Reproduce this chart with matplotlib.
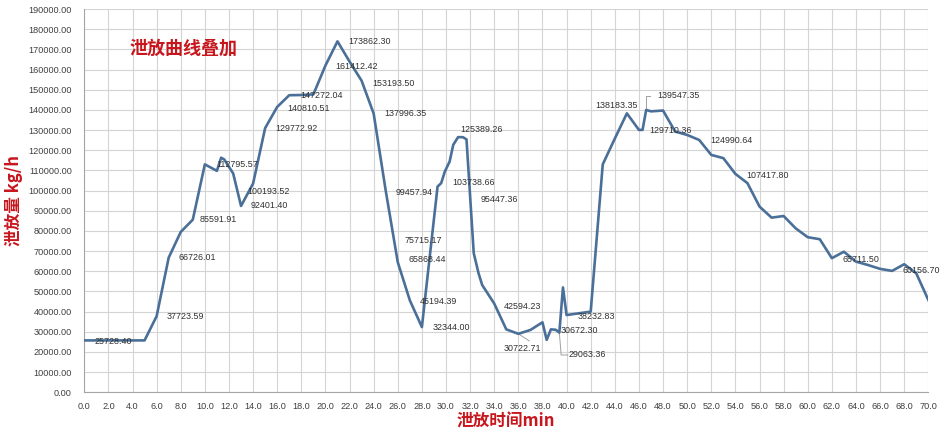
import matplotlib
matplotlib.use("Agg")
import matplotlib.pyplot as plt
from matplotlib.ticker import FormatStrFormatter, MultipleLocator

plt.rcParams['font.family'] = ['Liberation Sans', 'Noto Sans CJK SC', 'DejaVu Sans']

# 泄放曲线数据 (min, kg/h)
t_min = [0, 1, 2, 3, 4, 5, 6, 7, 8, 9, 10, 11, 11.35, 11.6, 12.35, 13, 14, 15, 16, 17,
         18, 19, 20, 21, 22, 23, 24, 25, 26, 27, 28, 29.3, 29.6, 29.9, 30.3, 30.6, 31,
         31.4, 31.7, 32.3, 32.7, 33, 34, 35, 36, 37, 38, 38.35, 38.7, 39.1, 39.4, 39.7,
         40, 42, 43, 44, 45, 46, 46.3, 46.6, 47, 48, 49, 50, 51, 52, 53, 54, 55, 56, 57,
         58, 59, 60, 61, 62, 63, 64, 65, 66, 67, 68, 69, 70]
flow = [25728.40, 25728.40, 25728.40, 25728.40, 25728.40, 25728.40, 37723.59, 66726.01,
        79500, 85591.91, 113000, 109800, 116300, 115500, 108500, 92401.40, 103500, 131000,
        141500, 147300, 147400, 147700, 162000, 174000, 164000, 154500, 138200, 100000,
        64500, 45600, 32344.00, 102000, 103700, 109400, 114400, 122700, 126500, 126500,
        125400, 69000, 59000, 53200, 44000, 31200, 29000, 30900, 34700, 26000, 31200,
        31000, 29600, 52000, 38300, 40000, 113000, 125800, 138300, 130100, 130100, 140000,
        139300, 139700, 129300, 127600, 125100, 117700, 116100, 108300, 103700, 92100,
        86600, 87400, 81300, 76900, 75900, 66500, 69700, 64800, 63100, 61200, 60200,
        63500, 59000, 45800]

# 数据标签 (文字, x, y)
lbl_text = ['25728.40', '37723.59', '66726.01', '85591.91', '112795.57', '100193.52',
            '92401.40', '129772.92', '140810.51', '147272.04', '173862.30', '161412.42',
            '153193.50', '137996.35', '125389.26', '103738.66', '99457.94', '95447.36',
            '75715.17', '65868.44', '45194.39', '32344.00', '42594.23', '30722.71',
            '30672.30', '29063.36', '38232.83', '138183.35', '139547.35', '129710.36',
            '124990.64', '107417.80', '65711.50', '60156.70']
lbl_x = [0.83, 6.83, 7.85, 9.6, 10.92, 13.52, 13.82, 15.87, 16.83, 17.9, 21.9, 20.85,
         23.88, 24.85, 31.15, 30.55, 25.85, 32.87, 26.53, 26.87, 27.84, 28.86, 34.83, 34.8,
         39.53, 40.2, 40.88, 42.35, 47.54, 46.9, 51.88, 54.93, 62.89, 67.86]
lbl_y = [25400, 37500, 66800, 85500, 112700, 99800, 92500, 131000, 140500, 147000, 173900,
         161500, 153300, 138000, 130400, 104000, 99200, 95400, 75500, 65600, 44900, 32000,
         42500, 21500, 30500, 18500, 37800, 142000, 147000, 129600, 124600, 107300, 65600,
         60200]

fig = plt.figure(figsize=(9.49, 4.33), dpi=100)
ax = fig.add_axes([0.0888, 0.094, 0.8894, 0.885])

ax.plot(t_min, flow, color='#4a6f98', lw=1.9, solid_joinstyle='round', zorder=3)

for s, x, y in zip(lbl_text, lbl_x, lbl_y):
    ax.text(x, y, s, fontsize=6.4, color='#303030', ha='left', va='center', zorder=4)

# 引导线
ax.plot([36.0, 36.9], [29000, 25500], color='#a0a0a0', lw=0.7, zorder=2)
ax.plot([39.4, 39.55, 40.1], [29600, 18500, 18500], color='#a0a0a0', lw=0.7, zorder=2)
ax.plot([46.6, 46.6, 46.9], [140000, 147000, 147000], color='#a0a0a0', lw=0.7, zorder=2)

ax.text(3.79, 170600, '泄放曲线叠加', fontsize=13, color='#c8161d', fontweight='bold',
        family=['Noto Sans CJK SC', 'DejaVu Sans'], va='center', ha='left')

ax.set_xlim(0, 70)
ax.set_ylim(0, 190000)
ax.xaxis.set_major_locator(MultipleLocator(2))
ax.yaxis.set_major_locator(MultipleLocator(10000))
ax.xaxis.set_major_formatter(FormatStrFormatter('%.1f'))
ax.yaxis.set_major_formatter(FormatStrFormatter('%.2f'))
ax.tick_params(length=0, labelsize=6.6, labelcolor='#404040')
ax.tick_params(axis='y', pad=9)
ax.tick_params(axis='x', pad=7)
ax.grid(True, color='#d4d4d4', lw=0.8)
ax.set_axisbelow(True)
for side in ['top', 'right']:
    ax.spines[side].set_visible(False)
for side in ['left', 'bottom']:
    ax.spines[side].set_color('#a6a6a6')

ax.set_ylabel('泄放量 kg/h', fontsize=12, color='#c8161d', fontweight='bold',
              family=['Noto Sans CJK SC', 'DejaVu Sans'], labelpad=4)
ax.set_xlabel('泄放时间min', fontsize=12, color='#c8161d', fontweight='bold',
              family=['Noto Sans CJK SC', 'DejaVu Sans'], labelpad=1)

fig.savefig('out.png', dpi=100)
